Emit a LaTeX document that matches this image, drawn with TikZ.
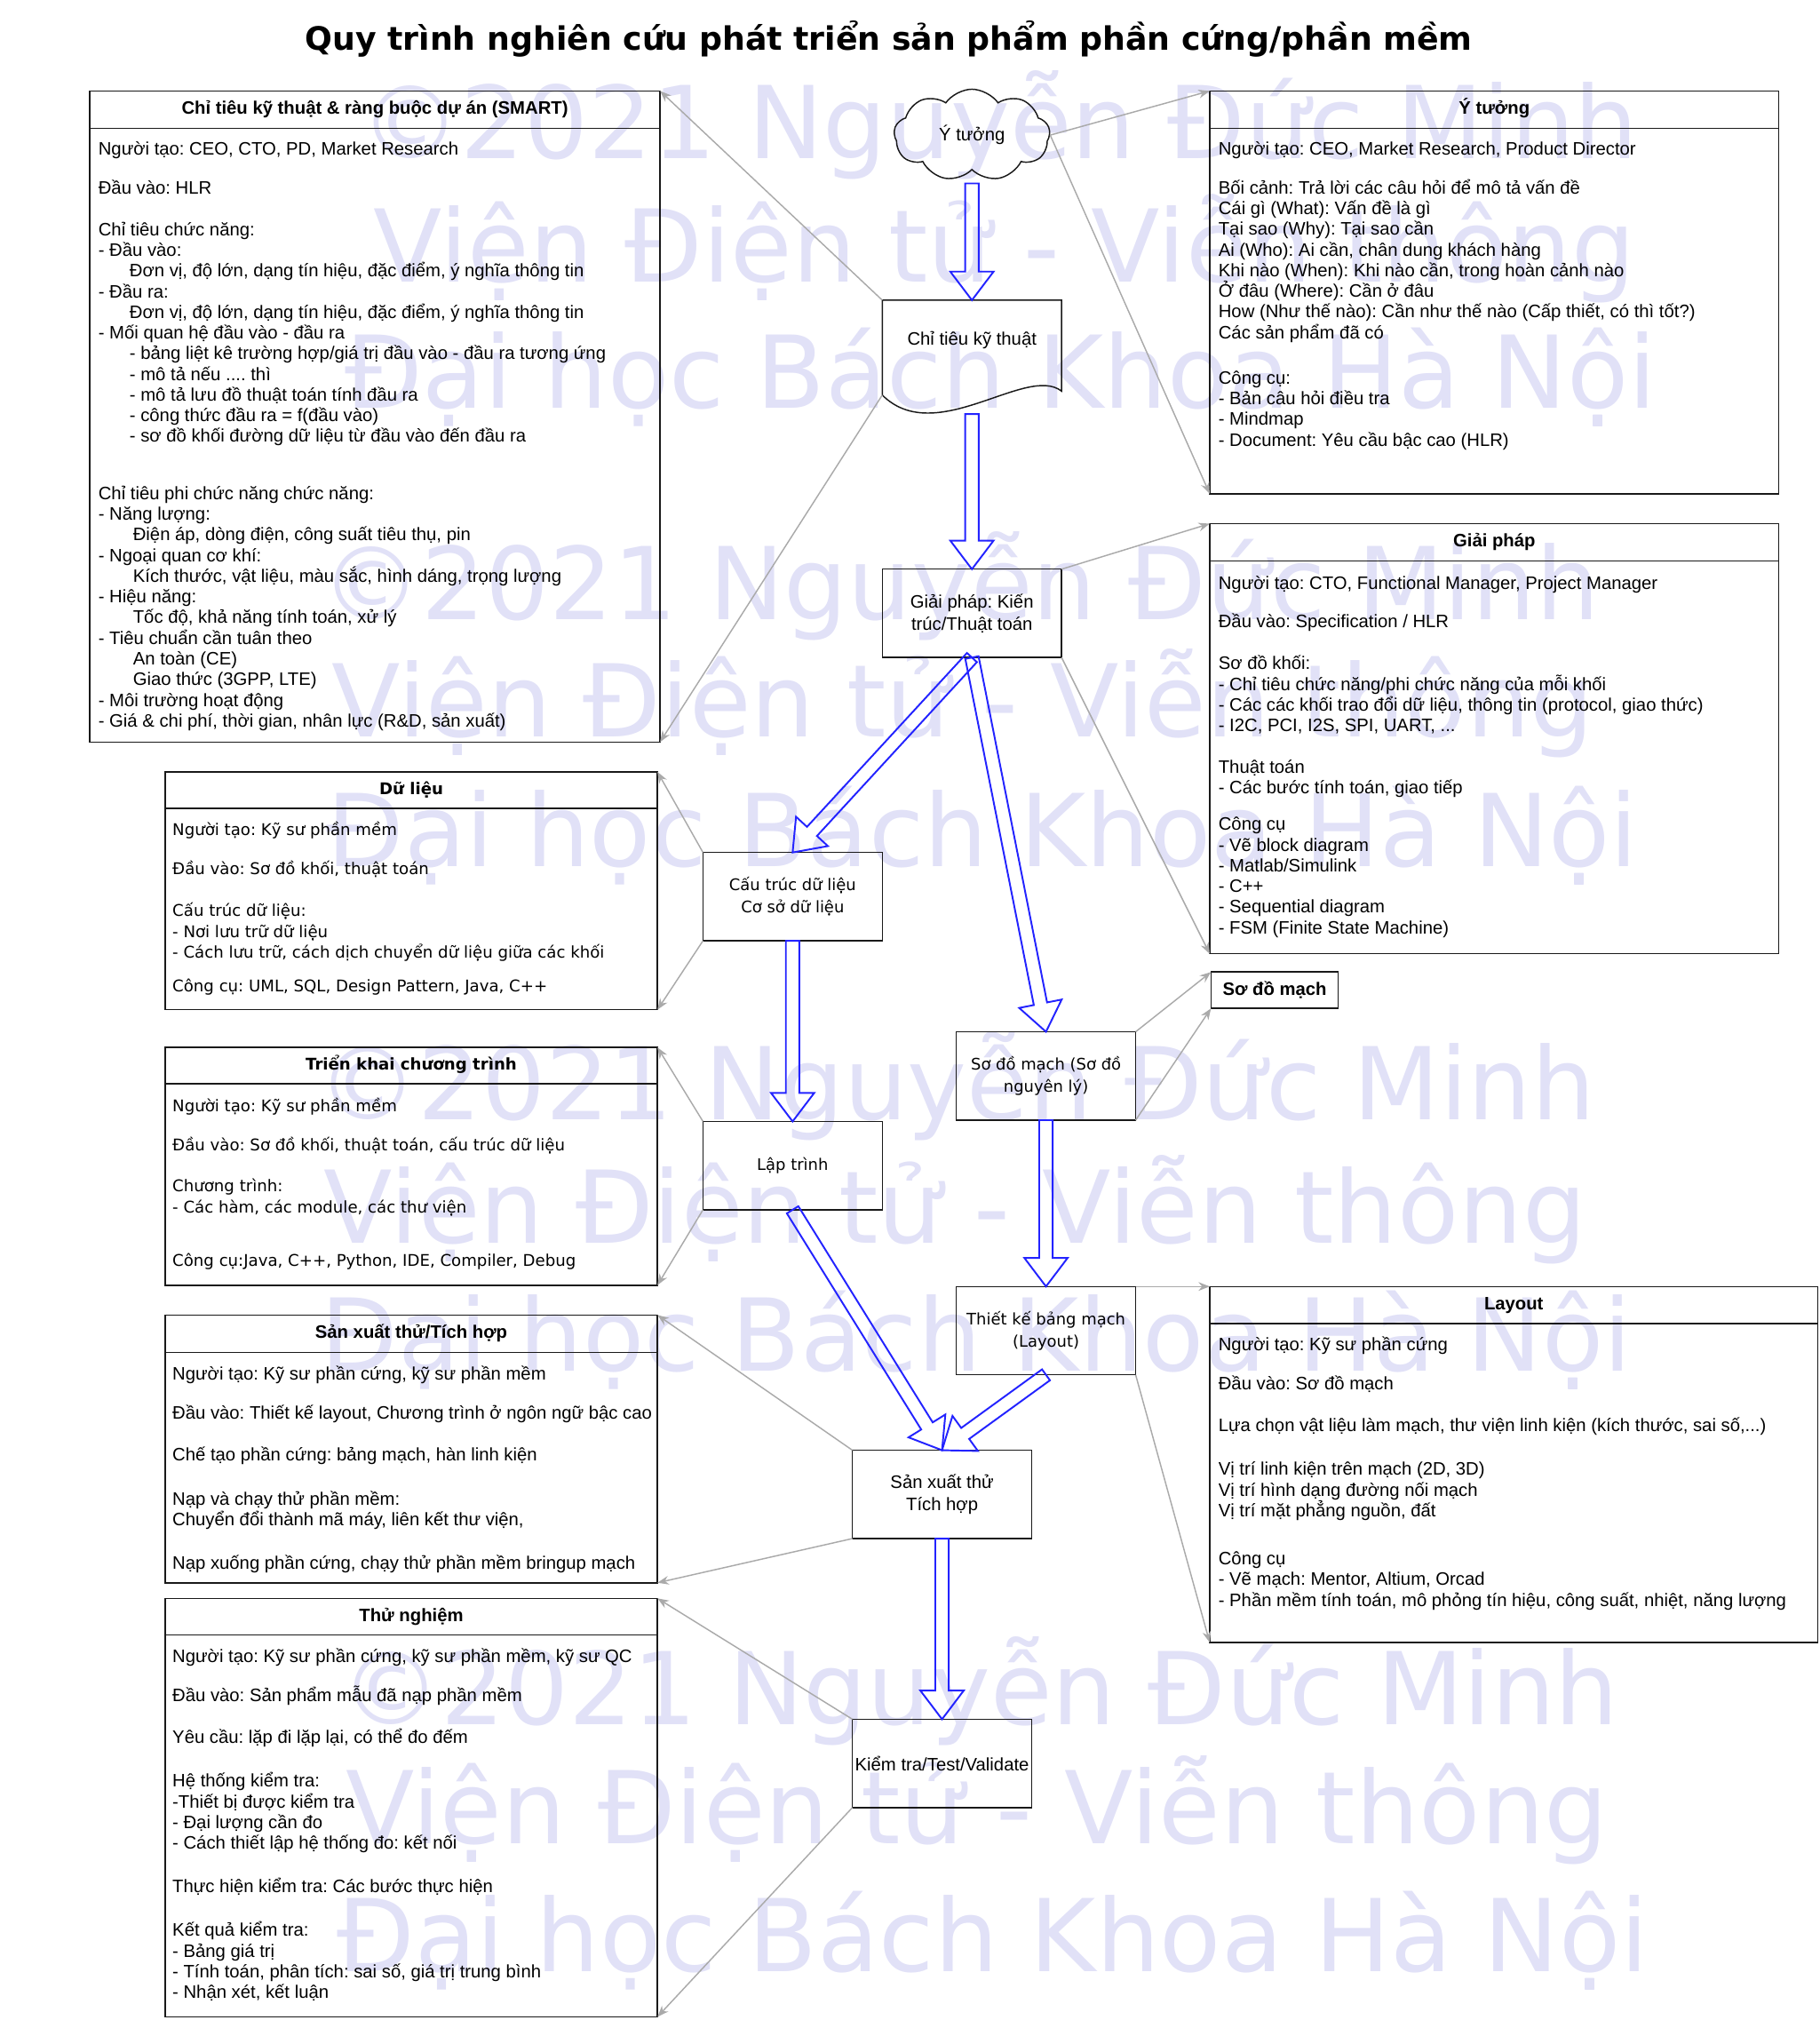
\documentclass[tikz,border=0pt]{standalone}
\usepackage{fontspec}
\setmainfont{Liberation Sans}
\newfontfamily\dvsans{DejaVu Sans}
\usepackage{tikz}
\usetikzlibrary{arrows.meta, positioning, calc, shapes.symbols}
\frenchspacing

\definecolor{boxline}{RGB}{25,25,25}
\definecolor{linkgray}{RGB}{170,170,170}
\definecolor{flexblue}{RGB}{35,35,255}
\definecolor{wmcolor}{RGB}{225,225,247}

\newcommand{\bodyfont}{\fontsize{10.4}{11.93}\selectfont}
\newcommand{\vbodyfont}{\dvsans\fontsize{9.3}{11.93}\selectfont}
\newcommand{\firstline}{\rule{0pt}{11pt}}
\newcommand{\ind}{\hspace*{18pt}}
\newcommand{\indb}{\hspace*{20pt}}
% hollow block arrow from #1 to #2
\newcommand{\hollowarrow}[2]{%
  \coordinate (ha) at ($(#2)!16.5pt!(#1)$);
  \draw[flex] ($(#1)!3.9pt!90:(#2)$) -- ($(ha)!3.9pt!-90:(#1)$) -- ($(ha)!12.5pt!-90:(#1)$) -- (#2)
    -- ($(ha)!12.5pt!90:(#1)$) -- ($(ha)!3.9pt!90:(#1)$) -- ($(#1)!3.9pt!-90:(#2)$) -- cycle;}

\begin{document}
\begin{tikzpicture}[
        x=0.75pt, y=-0.75pt,
        panel/.style={rectangle, draw=boxline, line width=0.75pt, inner sep=0pt, outer sep=0pt, anchor=north west},
        headline/.style={draw=boxline, line width=0.75pt},
        headtext/.style={font=\bfseries\fontsize{10.4}{12}\selectfont, text height=7.6pt, text depth=2.2pt, inner sep=0pt},
        vheadtext/.style={font=\dvsans\bfseries\fontsize{9.3}{12}\selectfont, text height=7pt, text depth=2pt, inner sep=0pt},
        bodytext/.style={anchor=north west, inner sep=0pt, align=left, font=\bodyfont},
        vbodytext/.style={anchor=north west, inner sep=0pt, align=left, font=\vbodyfont},
        flowbox/.style={rectangle, draw=boxline, line width=0.75pt, minimum width=103.5pt, minimum height=51pt, inner sep=1pt, outer sep=0pt, align=center, font=\fontsize{10.4}{12.75}\selectfont},
        vflowbox/.style={flowbox, font=\dvsans\fontsize{9.2}{12.75}\selectfont},
        link/.style={draw=linkgray, line width=0.75pt, -{Stealth[length=6.5pt, width=5pt]}},
        flex/.style={draw=flexblue, line width=1pt, line join=miter},
        wmark/.style={anchor=base, inner sep=0pt, text=wmcolor, font=\dvsans\fontsize{58}{60}\selectfont}
    ]
        \useasboundingbox (0,0) rectangle (1400,1566.8);

        % Watermark
        \node[wmark] (wm1a) at (769,122) {©2021 Nguyễn Đức Minh};
        \node[wmark] (wm1b) at (773,217) {Viện Điện tử - Viễn thông};
        \node[wmark] (wm1c) at (770,314) {Đại học Bách Khoa Hà Nội};
        \node[wmark] (wm2a) at (739,477) {©2021 Nguyễn Đức Minh};
        \node[wmark] (wm2b) at (741,567) {Viện Điện tử - Viễn thông};
        \node[wmark] (wm2c) at (756,667) {Đại học Bách Khoa Hà Nội};
        \node[wmark] (wm3a) at (736,862) {©2021 Nguyễn Đức Minh};
        \node[wmark] (wm3b) at (735,957) {Viện Điện tử - Viễn thông};
        \node[wmark] (wm3c) at (751,1055) {Đại học Bách Khoa Hà Nội};
        \node[wmark] (wm4a) at (754,1327) {©2021 Nguyễn Đức Minh};
        \node[wmark] (wm4b) at (752,1419) {Viện Điện tử - Viễn thông};
        \node[wmark] (wm4c) at (764,1517) {Đại học Bách Khoa Hà Nội};

        % Title
        \node[font=\dvsans\bfseries\fontsize{18.6}{20}\selectfont] (title) at (684,30) {Quy trình nghiên cứu phát triển sản phẩm phần cứng/phần mềm};

        % Flow nodes
        \node[cloud, draw=boxline, line width=0.75pt, cloud puffs=9, cloud puff arc=110, cloud ignores aspect,
              minimum width=90pt, minimum height=53pt, inner sep=0pt, font=\bodyfont] (idea) at (748,104) {Ý tưởng};
        \node[minimum width=103.5pt, minimum height=54.75pt, inner sep=0pt, outer sep=0pt] (spec) at (748,267.5) {};
        \draw[draw=boxline, line width=0.75pt] (spec.south west) -- (spec.north west) -- (spec.north east)
            -- ([yshift=2.25pt]spec.south east) .. controls (790,280) and (720,345) .. (spec.south west);
        \node[font=\bodyfont, inner sep=0pt] (spectext) at (748,262) {Chỉ tiêu kỹ thuật};
        \node[flowbox] (arch) at (748,472) {Giải pháp: Kiến\\trúc/Thuật toán};
        \node[vflowbox] (dbase) at (610,690) {Cấu trúc dữ liệu\\Cơ sở dữ liệu};
        \node[vflowbox] (schem) at (805,828) {Sơ đồ mạch (Sơ đồ\\nguyên lý)};
        \node[vflowbox] (code) at (610,897) {Lập trình};
        \node[vflowbox] (pcb) at (805,1024) {Thiết kế bảng mạch\\(Layout)};
        \node[flowbox] (proto) at (725,1150) {Sản xuất thử\\Tích hợp};
        \node[flowbox] (verify) at (725,1357) {Kiểm tra/Test/Validate};

        % Panels
        \node[panel, minimum width=329.25pt, minimum height=375.75pt] (smartbox) at (69,70) {};
        \draw[headline] ([yshift=-21.5pt]smartbox.north west) -- ([yshift=-21.5pt]smartbox.north east);
        \node[headtext] (smarthead) at ([yshift=-10.75pt]smartbox.north) {Chỉ tiêu kỹ thuật \& ràng buộc dự án (SMART)};
        \node[bodytext] (smarttext) at (75.5,104.3) {\firstline Người tạo: CEO, CTO, PD, Market Research\\[10.6pt]
            Đầu vào: HLR\\[12.1pt]
            Chỉ tiêu chức năng:\\
            - Đầu vào:\\
            \ind Đơn vị, độ lớn, dạng tín hiệu, đặc điểm, ý nghĩa thông tin\\
            - Đầu ra:\\
            \ind Đơn vị, độ lớn, dạng tín hiệu, đặc điểm, ý nghĩa thông tin\\
            - Mối quan hệ đầu vào - đầu ra\\
            \ind - bảng liệt kê trường hợp/giá trị đầu vào - đầu ra tương ứng\\
            \ind - mô tả nếu .... thì\\
            \ind - mô tả lưu đồ thuật toán tính đầu ra\\
            \ind - công thức đầu ra = f(đầu vào)\\
            \ind - sơ đồ khối đường dữ liệu từ đầu vào đến đầu ra\\[21.1pt]
            Chỉ tiêu phi chức năng chức năng:\\
            - Năng lượng:\\
            \indb Điện áp, dòng điện, công suất tiêu thụ, pin\\
            - Ngoại quan cơ khí:\\
            \indb Kích thước, vật liệu, màu sắc, hình dáng, trọng lượng\\
            - Hiệu năng:\\
            \indb Tốc độ, khả năng tính toán, xử lý\\
            - Tiêu chuẩn cần tuân theo\\
            \indb An toàn (CE)\\
            \indb Giao thức (3GPP, LTE)\\
            - Môi trường hoạt động\\
            - Giá \& chi phí, thời gian, nhân lực (R\&D, sản xuất)};

        \node[panel, minimum width=328.5pt, minimum height=232.5pt] (ideabox) at (931,70) {};
        \draw[headline] ([yshift=-21.5pt]ideabox.north west) -- ([yshift=-21.5pt]ideabox.north east);
        \node[headtext] (ideahead) at ([yshift=-10.75pt]ideabox.north) {Ý tưởng};
        \node[bodytext] (ideatext) at (937.5,104.3) {\firstline Người tạo: CEO, Market Research, Product Director\\[10.6pt]
            Bối cảnh: Trả lời các câu hỏi để mô tả vấn đề\\
            Cái gì (What): Vấn đề là gì\\
            Tại sao (Why): Tại sao cần\\
            Ai (Who): Ai cần, chân dung khách hàng\\
            Khi nào (When): Khi nào cần, trong hoàn cảnh nào\\
            Ở đâu (Where): Cần ở đâu\\
            How (Như thế nào): Cần như thế nào (Cấp thiết, có thì tốt?)\\
            Các sản phẩm đã có\\[14.3pt]
            Công cụ:\\
            - Bản câu hỏi điều tra\\
            - Mindmap\\
            - Document: Yêu cầu bậc cao (HLR)};

        \node[panel, minimum width=328.5pt, minimum height=248.25pt] (solbox) at (931,403) {};
        \draw[headline] ([yshift=-21.5pt]solbox.north west) -- ([yshift=-21.5pt]solbox.north east);
        \node[headtext] (solhead) at ([yshift=-10.75pt]solbox.north) {Giải pháp};
        \node[bodytext] (soltext) at (937.5,438.3) {\firstline Người tạo: CTO, Functional Manager, Project Manager\\[10.6pt]
            Đầu vào: Specification / HLR\\[12.1pt]
            Sơ đồ khối:\\
            - Chỉ tiêu chức năng/phi chức năng của mỗi khối\\
            - Các các khối trao đổi dữ liệu, thông tin (protocol, giao thức)\\
            - I2C, PCI, I2S, SPI, UART, ...\\[12.1pt]
            Thuật toán\\
            - Các bước tính toán, giao tiếp\\[9.1pt]
            Công cụ\\
            - Vẽ block diagram\\
            - Matlab/Simulink\\
            - C++\\
            - Sequential diagram\\
            - FSM (Finite State Machine)};

        \node[panel, minimum width=284.25pt, minimum height=137.25pt] (databox) at (127,594) {};
        \draw[headline] ([yshift=-21pt]databox.north west) -- ([yshift=-21pt]databox.north east);
        \node[vheadtext] (datahead) at ([yshift=-10.5pt]databox.north) {Dữ liệu};
        \node[vbodytext] (datatext) at (132.5,628.3) {\firstline Người tạo: Kỹ sư phần mềm\\[10.6pt]
            Đầu vào: Sơ đồ khối, thuật toán\\[12.1pt]
            Cấu trúc dữ liệu:\\
            - Nơi lưu trữ dữ liệu\\
            - Cách lưu trữ, cách dịch chuyển dữ liệu giữa các khối\\[7.6pt]
            Công cụ: UML, SQL, Design Pattern, Java, C++};

        \node[panel, minimum width=284.25pt, minimum height=137.25pt] (progbox) at (127,806) {};
        \draw[headline] ([yshift=-21pt]progbox.north west) -- ([yshift=-21pt]progbox.north east);
        \node[vheadtext] (proghead) at ([yshift=-10.5pt]progbox.north) {Triển khai chương trình};
        \node[vbodytext] (progtext) at (132.5,840.3) {\firstline Người tạo: Kỹ sư phần mềm\\[10.6pt]
            Đầu vào: Sơ đồ khối, thuật toán, cấu trúc dữ liệu\\[12.1pt]
            Chương trình:\\
            - Các hàm, các module, các thư viện\\[18.8pt]
            Công cụ:Java, C++, Python, IDE, Compiler, Debug};

        \node[panel, minimum width=284.25pt, minimum height=154.5pt] (protobox) at (127,1012) {};
        \draw[headline] ([yshift=-21.5pt]protobox.north west) -- ([yshift=-21.5pt]protobox.north east);
        \node[headtext] (protohead) at ([yshift=-10.75pt]protobox.north) {Sản xuất thử/Tích hợp};
        \node[bodytext] (prototext) at (132.5,1047.3) {\firstline Người tạo: Kỹ sư phần cứng, kỹ sư phần mềm\\[10.6pt]
            Đầu vào: Thiết kế layout, Chương trình ở ngôn ngữ bậc cao\\[12.1pt]
            Chế tạo phần cứng: bảng mạch, hàn linh kiện\\[13.6pt]
            Nạp và chạy thử phần mềm:\\
            Chuyển đổi thành mã máy, liên kết thư viện,\\[12.8pt]
            Nạp xuống phần cứng, chạy thử phần mềm bringup mạch};

        \node[panel, minimum width=284.25pt, minimum height=241.5pt] (testbox) at (127,1230) {};
        \draw[headline] ([yshift=-21pt]testbox.north west) -- ([yshift=-21pt]testbox.north east);
        \node[headtext] (testhead) at ([yshift=-10.5pt]testbox.north) {Thử nghiệm};
        \node[bodytext] (testtext) at (132.5,1264.3) {\firstline Người tạo: Kỹ sư phần cứng, kỹ sư phần mềm, kỹ sư QC\\[10.6pt]
            Đầu vào: Sản phẩm mẫu đã nạp phần mềm\\[12.1pt]
            Yêu cầu: lặp đi lặp lại, có thể đo đếm\\[13.6pt]
            Hệ thống kiểm tra:\\
            -Thiết bị được kiểm tra\\
            - Đại lượng cần đo\\
            - Cách thiết lập hệ thống đo: kết nối\\[12.8pt]
            Thực hiện kiểm tra: Các bước thực hiện\\[13.6pt]
            Kết quả kiểm tra:\\
            - Bảng giá trị\\
            - Tính toán, phân tích: sai số, giá trị trung bình\\
            - Nhận xét, kết luận};

        \node[panel, minimum width=351pt, minimum height=205.5pt] (layoutbox) at (931,990) {};
        \draw[headline] ([yshift=-21.5pt]layoutbox.north west) -- ([yshift=-21.5pt]layoutbox.north east);
        \node[headtext] (layouthead) at ([yshift=-10.75pt]layoutbox.north) {Layout};
        \node[bodytext] (layouttext) at (937.5,1024.3) {\firstline Người tạo: Kỹ sư phần cứng\\[10.6pt]
            Đầu vào: Sơ đồ mạch\\[12.1pt]
            Lựa chọn vật liệu làm mạch, thư viện linh kiện (kích thước, sai số,...)\\[13.6pt]
            Vị trí linh kiện trên mạch (2D, 3D)\\
            Vị trí hình dạng đường nối mạch\\
            Vị trí mặt phẳng nguồn, đất\\[15.8pt]
            Công cụ\\
            - Vẽ mạch: Mentor, Altium, Orcad\\
            - Phần mềm tính toán, mô phỏng tín hiệu, công suất, nhiệt, năng lượng};

        \node[panel, minimum width=73.5pt, minimum height=21pt, font=\bfseries\fontsize{10.4}{12}\selectfont] (schembox) at (932,748) {Sơ đồ mạch};

        % Grey links to the panels
        \draw[link] (spec.north west) -- (smartbox.north east);
        \draw[link] (spec.south west) -- (smartbox.south east);
        \draw[link] (idea.east) -- (ideabox.north west);
        \draw[link] (idea.east) -- (ideabox.south west);
        \draw[link] (arch.north east) -- (solbox.north west);
        \draw[link] (arch.south east) -- (solbox.south west);
        \draw[link] (dbase.north west) -- (databox.north east);
        \draw[link] (dbase.south west) -- (databox.south east);
        \draw[link] (schem.north east) -- (schembox.north west);
        \draw[link] (schem.south east) -- (schembox.south west);
        \draw[link] (code.north west) -- (progbox.north east);
        \draw[link] (code.south west) -- (progbox.south east);
        \draw[link] (pcb.north east) -- (layoutbox.north west);
        \draw[link] (pcb.south east) -- (layoutbox.south west);
        \draw[link] (proto.north west) -- (protobox.north east);
        \draw[link] (proto.south west) -- (protobox.south east);
        \draw[link] (verify.north west) -- (testbox.north east);
        \draw[link] (verify.south west) -- (testbox.south east);

        % Blue flow arrows
        \coordinate (ideaout) at ([yshift=-7.5pt]idea.south);
        \coordinate (specout) at ([yshift=-11pt]spec.south);
        \hollowarrow{ideaout}{spec.north}
        \hollowarrow{specout}{arch.north}
        \hollowarrow{arch.south}{dbase.north}
        \hollowarrow{arch.south}{schem.north}
        \hollowarrow{dbase.south}{code.north}
        \hollowarrow{schem.south}{pcb.north}
        \hollowarrow{code.south}{proto.north}
        \hollowarrow{pcb.south}{proto.north}
        \hollowarrow{proto.south}{verify.north}
    \end{tikzpicture}
\end{document}
